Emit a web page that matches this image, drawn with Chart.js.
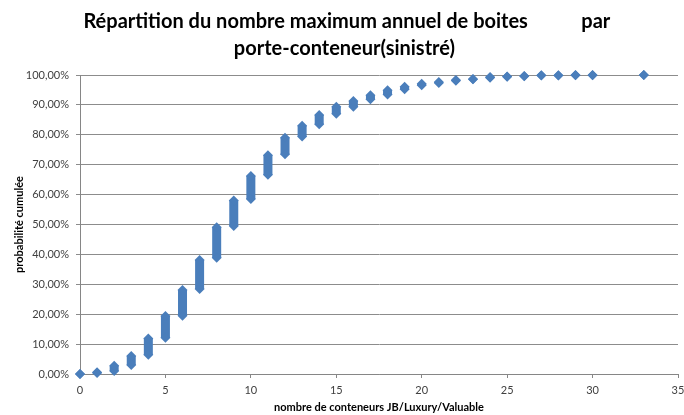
<!DOCTYPE html>
<html>
<head>
<meta charset="utf-8">
<script src="https://cdn.jsdelivr.net/npm/chart.js@4/dist/chart.umd.min.js"></script>
<style>
  html, body { margin: 0; padding: 0; background: #fff; }
  #wrap { width: 684px; height: 415px; }
</style>
</head>
<body>
<div id="wrap"><canvas id="myChart"></canvas></div>
<script>
// nombre de conteneurs JB/Luxury/Valuable
const nbConteneurs = [0, 1, 2, 3, 4, 5, 6, 7, 8, 9, 10, 11, 12, 13, 14, 15, 16, 17, 18, 19, 20, 21, 22, 23, 24, 25, 26, 27, 28, 29, 30, 33];
// probabilité cumulée (%) : plus basse et plus haute valeur pour chaque nombre
const probMin = [0, 0.3, 1.0, 3.0, 6.4, 12.1, 19.5, 28.4, 38.9, 49.5, 58.5, 66.6, 73.5, 79.4, 83.5, 87.0, 89.4, 91.9, 93.5, 95.2, 96.6, 97.3, 98.1, 98.6, 99.1, 99.4, 99.6, 99.8, 99.8, 99.9, 99.9, 100];
const probMax = [0, 0.6, 2.8, 6.0, 11.9, 19.4, 28.1, 38.1, 49.1, 58.0, 66.2, 73.2, 79.0, 83.0, 86.6, 89.4, 91.3, 93.2, 94.9, 96.1, 97.1, 97.7, 98.3, 98.7, 99.3, 99.5, 99.7, 99.9, 99.9, 100, 100, 100];
const ticksX = [0, 5, 10, 15, 20, 25, 30, 35];
const ticksY = [0, 10, 20, 30, 40, 50, 60, 70, 80, 90, 100];

const bleu = '#4a7ebb';

// chaque nombre : un segment vertical entre min et max, coupé par un point vide
const points = [];
nbConteneurs.forEach((n, i) => {
  points.push({ x: n, y: probMin[i] });
  points.push({ x: n, y: probMax[i] });
  points.push({ x: n, y: null });
});

const ctx = document.getElementById('myChart').getContext('2d');
const myChart = new Chart(ctx, {
  type: 'scatter',
  data: {
    datasets: [{
      label: 'probabilité cumulée',
      data: points,
      showLine: true,
      spanGaps: false,
      borderColor: bleu,
      borderWidth: 9,
      borderCapStyle: 'butt',
      pointStyle: 'rectRot',
      pointRadius: 5,
      pointHoverRadius: 5,
      pointBackgroundColor: bleu,
      pointBorderWidth: 0,
      clip: false
    }]
  },
  options: {
    responsive: true,
    maintainAspectRatio: false,
    animation: false,
    layout: { padding: { left: 0, right: 0, top: 0, bottom: 0 } },
    plugins: {
      legend: { display: false },
      tooltip: { enabled: false },
      title: {
        display: true,
        text: ['  Répartition du nombre maximum annuel de boites           par', ' porte-conteneur(sinistré)'],
        color: '#000',
        font: { family: 'Lato', size: 20, weight: 'bold', lineHeight: 1.35 },
        padding: { top: 8, bottom: 13 }
      }
    },
    scales: {
      x: {
        type: 'linear',
        min: 0,
        max: 35,
        afterFit: s => { s.height = 41; s.paddingRight = 6; },
        afterBuildTicks: s => { s.ticks = ticksX.map(v => ({ value: v })); },
        grid: { drawOnChartArea: false, drawTicks: true, tickLength: 4, color: '#868686' },
        border: { color: '#868686' },
        ticks: { color: '#404040', font: { family: 'Lato', size: 11 }, padding: 6, maxRotation: 0 },
        title: {
          display: true,
          text: 'nombre de conteneurs JB/Luxury/Valuable',
          color: '#000',
          font: { family: 'Lato', size: 11, weight: 'bold' },
          padding: { top: 0, bottom: 1 }
        }
      },
      y: {
        min: 0,
        max: 100,
        afterFit: s => { s.width = 80; },
        afterBuildTicks: s => { s.ticks = ticksY.map(v => ({ value: v })); },
        grid: { color: '#8c8c8c', tickLength: 4 },
        border: { color: '#868686' },
        ticks: {
          color: '#404040',
          font: { family: 'Lato', size: 11 },
          padding: 7,
          callback: v => v.toFixed(2).replace('.', ',') + '%'
        },
        title: {
          display: true,
          text: 'probabilité cumulée',
          color: '#000',
          font: { family: 'Lato', size: 11, weight: 'bold' },
          padding: { top: 13, bottom: 0 }
        }
      }
    }
  }
});
</script>
</body>
</html>
